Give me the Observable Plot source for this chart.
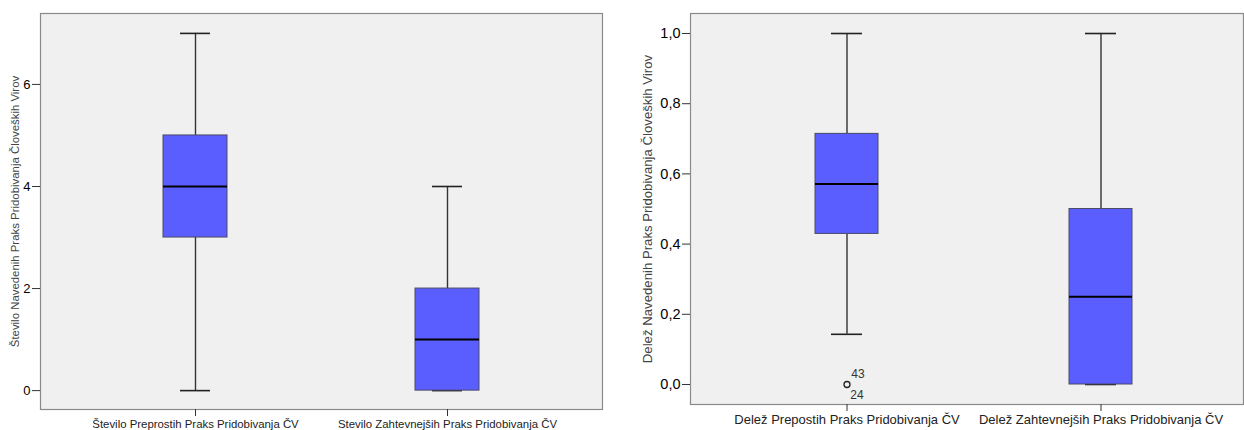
<!DOCTYPE html>
<html>
<head>
<meta charset="utf-8">
<script src="https://cdn.jsdelivr.net/npm/d3@7"></script>
<script src="https://cdn.jsdelivr.net/npm/@observablehq/plot@0.6"></script>
<style>
  html, body { margin: 0; padding: 0; background: #fff; }
  #wrap { display: flex; flex-direction: row; width: 1244px; height: 430px; }
  svg { font-family: "Liberation Sans", Arial, sans-serif; }
</style>
</head>
<body>
<div id="wrap"></div>
<script>
// ---- Left panel data (counts) ----
const leftCategories = ["Število Preprostih Praks Pridobivanja ČV", "Stevilo Zahtevnejših Praks Pridobivanja ČV"];
const leftMin    = [0, 0];
const leftQ1     = [3, 0];
const leftMedian = [4, 1];
const leftQ3     = [5, 2];
const leftMax    = [7, 4];
const leftYTicks = [0, 2, 4, 6];
const leftYTitle = "Število Navedenih Praks Pridobivanja Človeških Virov";

// ---- Right panel data (shares) ----
const rightCategories = ["Delež Prepostih Praks Pridobivanja ČV", "Delež Zahtevnejših Praks Pridobivanja ČV"];
const rightMin    = [0.143, 0];
const rightQ1     = [0.429, 0];
const rightMedian = [0.571, 0.25];
const rightQ3     = [0.714, 0.5];
const rightMax    = [1.0, 1.0];
const rightYTicks = [0, 0.2, 0.4, 0.6, 0.8, 1.0];
const rightYTitle = "Delež Navedenih Praks Pridobivanja Človeških Virov";
const outlierCategory = "Delež Prepostih Praks Pridobivanja ČV";
const outlierValue = 0.0;
const outlierLabels = ["43", "24"];

const boxFill = "#5b5eff";

function buildRows(cats, mn, q1, md, q3, mx) {
  return cats.map((c, i) => ({cat: c, min: mn[i], q1: q1[i], med: md[i], q3: q3[i], max: mx[i]}));
}

function panel(opts) {
  const rows = buildRows(opts.cats, opts.mn, opts.q1, opts.md, opts.q3, opts.mx);
  const marks = [
    Plot.frame({fill: "#f0f0f0", stroke: "#8a8a8a", strokeWidth: 1.2}),
    // whiskers
    Plot.ruleX(rows, {x: "cat", y1: "q3", y2: "max", stroke: "#333", strokeWidth: 1.4}),
    Plot.ruleX(rows, {x: "cat", y1: "min", y2: "q1", stroke: "#333", strokeWidth: 1.4}),
    Plot.tickY(rows, {x: "cat", y: "max", stroke: "#222", strokeWidth: 1.6, insetLeft: opts.capInset, insetRight: opts.capInset}),
    Plot.tickY(rows, {x: "cat", y: "min", stroke: "#222", strokeWidth: 1.6, insetLeft: opts.capInset, insetRight: opts.capInset}),
    // boxes
    Plot.barY(rows, {x: "cat", y1: "q1", y2: "q3", fill: boxFill, stroke: "#4a4a66", strokeWidth: 1}),
    Plot.tickY(rows, {x: "cat", y: "med", stroke: "#000", strokeWidth: 2}),
    // axes
    Plot.axisY(opts.yticks, {
      tickSize: 8, tickPadding: 2, fontSize: opts.yFont, stroke: "#333",
      fill: "#000", fontWeight: "normal",
      tickFormat: opts.yFormat, label: null
    }),
    Plot.axisX({
      tickSize: 7, tickPadding: 3, fontSize: opts.xFont, stroke: "#333", fill: "#222", label: null
    }),
    Plot.text([opts.yTitle], {
      frameAnchor: "left", textAnchor: "middle", dx: -opts.titleOffset, dy: opts.titleDy, rotate: -90, fontSize: opts.titleFont, fill: "#444",
      text: d => d
    })
  ];
  if (opts.extra) marks.push(...opts.extra);
  return Plot.plot({
    width: opts.width,
    height: 430,
    marginTop: 13,
    marginBottom: opts.marginBottom,
    marginLeft: opts.marginLeft,
    marginRight: opts.marginRight,
    style: {background: "#fff", overflow: "visible"},
    x: {type: "band", domain: opts.cats, paddingInner: opts.pi, paddingOuter: opts.po, align: opts.align, label: null},
    y: {domain: opts.ydomain, label: null},
    marks
  });
}

const left = panel({
  cats: leftCategories, mn: leftMin, q1: leftQ1, md: leftMedian, q3: leftQ3, mx: leftMax,
  yticks: leftYTicks, yFormat: d => String(d), ydomain: [-0.37, 7.39],
  width: 614, marginLeft: 40, marginRight: 12, marginBottom: 21,
  pi: 0.746, po: 0.488, align: 0.5, capInset: 17,
  yFont: 13, xFont: 11.4, titleFont: 11.4, titleOffset: 25, titleDy: 0, yTitle: leftYTitle
});

const right = panel({
  cats: rightCategories, mn: rightMin, q1: rightQ1, md: rightMedian, q3: rightQ3, mx: rightMax,
  yticks: rightYTicks, yFormat: d => d.toFixed(1).replace(".", ","), ydomain: [-0.057, 1.057],
  width: 630, marginLeft: 76, marginRight: 1, marginBottom: 26,
  pi: 0.752, po: 0.4645, align: 0.528, capInset: 16,
  yFont: 14.5, xFont: 13, titleFont: 13.2, titleOffset: 43, titleDy: 0, yTitle: rightYTitle,
  extra: [
    Plot.dot([{cat: outlierCategory, v: outlierValue}], {x: "cat", y: "v", r: 3, stroke: "#222", strokeWidth: 1.3, fill: "none"}),
    Plot.text([{cat: outlierCategory, v: outlierValue, t: outlierLabels[0]}], {x: "cat", y: "v", text: "t", dx: 11, dy: -10, fontSize: 12, fill: "#333"}),
    Plot.text([{cat: outlierCategory, v: outlierValue, t: outlierLabels[1]}], {x: "cat", y: "v", text: "t", dx: 10, dy: 11, fontSize: 12, fill: "#333"})
  ]
});

const wrap = document.getElementById("wrap");
wrap.appendChild(left);
wrap.appendChild(right);
</script>
</body>
</html>
